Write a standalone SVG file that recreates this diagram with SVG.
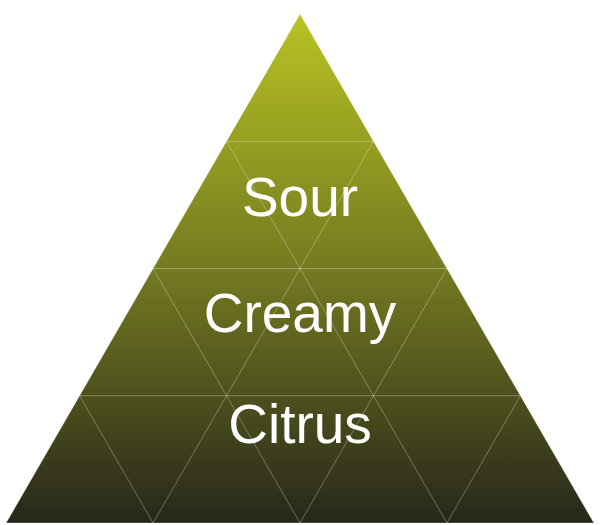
<svg xmlns="http://www.w3.org/2000/svg" width="600" height="525" viewBox="0 0 600 525">
  <defs>
    <linearGradient id="g" x1="0" y1="14" x2="0" y2="523" gradientUnits="userSpaceOnUse">
      <stop offset="0" stop-color="#b9c323"/>
      <stop offset="0.5" stop-color="#747a20"/>
      <stop offset="1" stop-color="#27271a"/>
    </linearGradient>
  </defs>
  <style>
    .grid { stroke: #ffffff; stroke-opacity: 0.3; stroke-width: 1; fill: none; }
    .lbl { font-family: "Liberation Sans", Arial, sans-serif; font-size: 55px; fill: #ffffff; text-anchor: middle; }
  </style>
  <g id="pyramid">
    <polygon points="300,14 593.87,523 6.13,523" fill="url(#g)" stroke="#ffffff" stroke-opacity="0.3" stroke-width="1"/>
  </g>
  <g id="connectors" class="grid">
    <line x1="226.53" y1="141.25" x2="373.47" y2="141.25"/>
    <line x1="153.07" y1="268.5" x2="446.93" y2="268.5"/>
    <line x1="79.6" y1="395.75" x2="520.4" y2="395.75"/>
    <line x1="373.47" y1="141.25" x2="153.07" y2="523"/>
    <line x1="446.93" y1="268.5" x2="300" y2="523"/>
    <line x1="520.4" y1="395.75" x2="446.93" y2="523"/>
    <line x1="226.53" y1="141.25" x2="446.93" y2="523"/>
    <line x1="153.07" y1="268.5" x2="300" y2="523"/>
    <line x1="79.6" y1="395.75" x2="153.07" y2="523"/>
  </g>
  <g id="node-sour"><text class="lbl" x="300" y="216">Sour</text></g>
  <g id="node-creamy"><text class="lbl" x="300" y="332">Creamy</text></g>
  <g id="node-citrus"><text class="lbl" x="300" y="443">Citrus</text></g>
</svg>
